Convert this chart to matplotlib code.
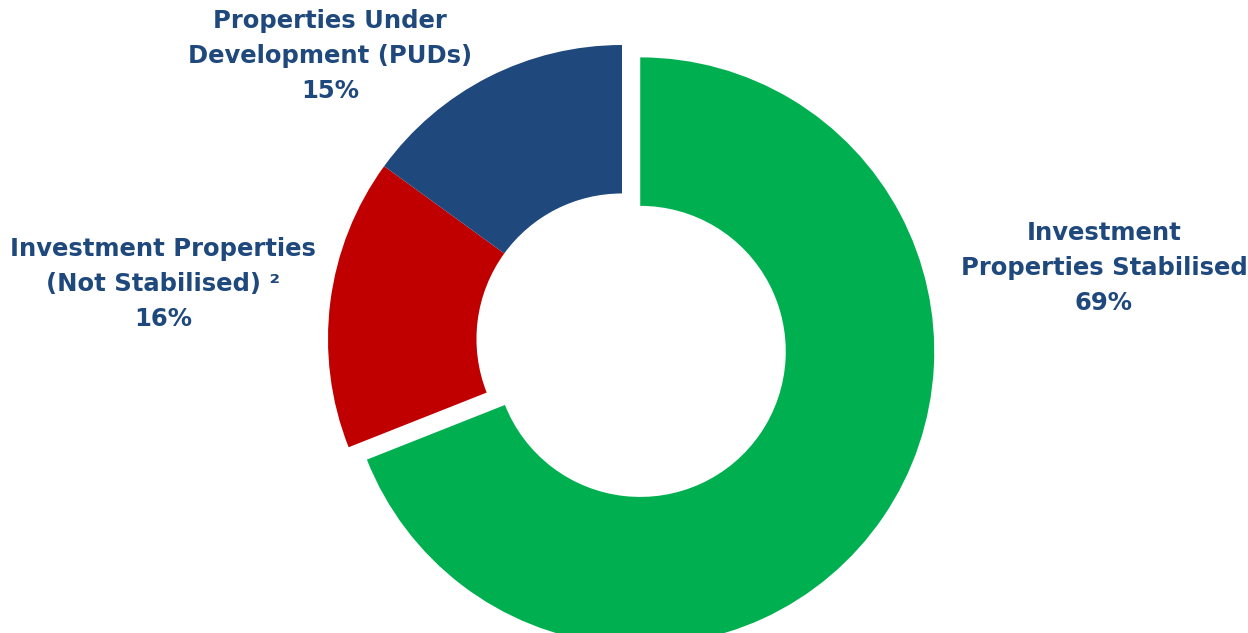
import matplotlib
matplotlib.use("Agg")
import matplotlib.pyplot as plt

categories = ["Investment Properties Stabilised",
              "Investment Properties (Not Stabilised)",
              "Properties Under Development (PUDs)"]
values = [69, 16, 15]
colors = ["#00B050", "#C00000", "#1F497D"]
explode = [0.075, 0, 0]
label_texts = ["Investment\nProperties Stabilised\n69%",
               "Investment Properties\n(Not Stabilised) \u00b2\n16%",
               "Properties Under\nDevelopment (PUDs)\n15%"]
label_pos_px = [(1104, 268), (163, 284), (330, 56)]

W, H = 1248, 633
fig = plt.figure(figsize=(W / 100, H / 100), dpi=100)
ax = fig.add_axes([0, 0, 1, 1])

cx, cy, R = 622, 339, 294  # pixel geometry
ax.pie(values, colors=colors, explode=explode, startangle=90, counterclock=False,
       radius=1.0, wedgeprops=dict(width=0.505, edgecolor="none"))
ax.set_aspect("auto")
ax.set_xlim(-cx / R, (W - cx) / R)
ax.set_ylim(-(H - cy) / R, cy / R)
ax.axis("off")

for txt, (px, py) in zip(label_texts, label_pos_px):
    fig.text(px / W, 1 - py / H, txt, ha="center", va="center", fontsize=17.5,
             fontweight="bold", color="#1F497D", family="DejaVu Sans",
             linespacing=1.58, multialignment="center")

fig.savefig("out.png", dpi=100)
